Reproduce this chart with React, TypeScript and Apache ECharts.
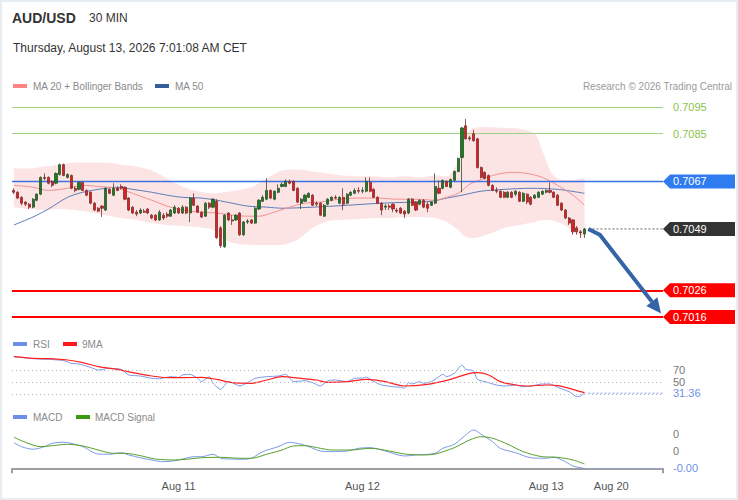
import React, { useEffect, useRef } from 'react';
import * as echarts from 'echarts';

// ---------- axis ----------
const categories = Array.from({ length: 170 }, (_, i) => String(i));
const axisLabelIndex = [43, 91, 139, 156];
const axisLabelText = ['Aug 11', 'Aug 12', 'Aug 13', 'Aug 20'];

// ---------- price candles [open, close, low, high] ----------
const candles = [
  [0.70636, 0.70629, 0.70622, 0.70644], [0.70629, 0.70607, 0.70603, 0.70633], [0.70610, 0.70588, 0.70580, 0.70614],
  [0.70592, 0.70584, 0.70577, 0.70595], [0.70584, 0.70573, 0.70566, 0.70588], [0.70573, 0.70603, 0.70569, 0.70607],
  [0.70599, 0.70622, 0.70595, 0.70625], [0.70622, 0.70685, 0.70618, 0.70689], [0.70685, 0.70681, 0.70674, 0.70700],
  [0.70685, 0.70663, 0.70659, 0.70689], [0.70670, 0.70655, 0.70648, 0.70674], [0.70663, 0.70700, 0.70659, 0.70704],
  [0.70696, 0.70733, 0.70692, 0.70737], [0.70733, 0.70692, 0.70689, 0.70737], [0.70685, 0.70696, 0.70681, 0.70700],
  [0.70692, 0.70644, 0.70640, 0.70696], [0.70644, 0.70636, 0.70629, 0.70651], [0.70640, 0.70666, 0.70636, 0.70670],
  [0.70666, 0.70636, 0.70633, 0.70670], [0.70636, 0.70618, 0.70614, 0.70640], [0.70629, 0.70588, 0.70584, 0.70633],
  [0.70588, 0.70562, 0.70558, 0.70592], [0.70569, 0.70558, 0.70554, 0.70573], [0.70577, 0.70569, 0.70536, 0.70580],
  [0.70562, 0.70644, 0.70558, 0.70648], [0.70640, 0.70625, 0.70622, 0.70644], [0.70618, 0.70644, 0.70614, 0.70663],
  [0.70644, 0.70636, 0.70633, 0.70651], [0.70651, 0.70644, 0.70640, 0.70659], [0.70648, 0.70603, 0.70599, 0.70651],
  [0.70607, 0.70562, 0.70558, 0.70610], [0.70573, 0.70551, 0.70547, 0.70577], [0.70554, 0.70547, 0.70539, 0.70562],
  [0.70551, 0.70562, 0.70547, 0.70569], [0.70558, 0.70554, 0.70551, 0.70566], [0.70566, 0.70551, 0.70547, 0.70569],
  [0.70543, 0.70532, 0.70528, 0.70547], [0.70543, 0.70525, 0.70521, 0.70547], [0.70525, 0.70554, 0.70521, 0.70562],
  [0.70543, 0.70532, 0.70525, 0.70551], [0.70547, 0.70539, 0.70532, 0.70554], [0.70539, 0.70562, 0.70536, 0.70566],
  [0.70551, 0.70573, 0.70547, 0.70580], [0.70569, 0.70551, 0.70547, 0.70573], [0.70551, 0.70573, 0.70547, 0.70580],
  [0.70573, 0.70551, 0.70547, 0.70577], [0.70551, 0.70607, 0.70517, 0.70610], [0.70607, 0.70580, 0.70577, 0.70625],
  [0.70577, 0.70554, 0.70551, 0.70580], [0.70554, 0.70536, 0.70532, 0.70558], [0.70539, 0.70588, 0.70536, 0.70592],
  [0.70588, 0.70573, 0.70566, 0.70592], [0.70573, 0.70603, 0.70569, 0.70607], [0.70595, 0.70458, 0.70454, 0.70603],
  [0.70495, 0.70428, 0.70420, 0.70502], [0.70424, 0.70543, 0.70420, 0.70547], [0.70551, 0.70525, 0.70521, 0.70554],
  [0.70525, 0.70521, 0.70506, 0.70543], [0.70525, 0.70543, 0.70521, 0.70547], [0.70551, 0.70469, 0.70465, 0.70554],
  [0.70469, 0.70517, 0.70465, 0.70521], [0.70517, 0.70521, 0.70510, 0.70528], [0.70525, 0.70513, 0.70510, 0.70528],
  [0.70513, 0.70569, 0.70510, 0.70573], [0.70566, 0.70599, 0.70562, 0.70603], [0.70595, 0.70610, 0.70592, 0.70618],
  [0.70603, 0.70636, 0.70599, 0.70681], [0.70636, 0.70607, 0.70603, 0.70640], [0.70603, 0.70633, 0.70599, 0.70636],
  [0.70629, 0.70644, 0.70625, 0.70659], [0.70651, 0.70659, 0.70648, 0.70666], [0.70651, 0.70670, 0.70648, 0.70677],
  [0.70670, 0.70663, 0.70659, 0.70677], [0.70670, 0.70636, 0.70633, 0.70674], [0.70644, 0.70592, 0.70588, 0.70648],
  [0.70588, 0.70603, 0.70566, 0.70607], [0.70595, 0.70618, 0.70592, 0.70622], [0.70610, 0.70625, 0.70607, 0.70629],
  [0.70618, 0.70580, 0.70577, 0.70622], [0.70588, 0.70584, 0.70577, 0.70595], [0.70588, 0.70543, 0.70539, 0.70592],
  [0.70539, 0.70580, 0.70536, 0.70584], [0.70584, 0.70603, 0.70580, 0.70607], [0.70599, 0.70610, 0.70595, 0.70614],
  [0.70610, 0.70607, 0.70603, 0.70618], [0.70588, 0.70610, 0.70584, 0.70614], [0.70610, 0.70584, 0.70562, 0.70644],
  [0.70588, 0.70622, 0.70584, 0.70625], [0.70618, 0.70629, 0.70614, 0.70633], [0.70625, 0.70636, 0.70622, 0.70644],
  [0.70636, 0.70633, 0.70625, 0.70648], [0.70633, 0.70636, 0.70625, 0.70648], [0.70633, 0.70670, 0.70629, 0.70685],
  [0.70666, 0.70633, 0.70629, 0.70685], [0.70640, 0.70610, 0.70607, 0.70644], [0.70610, 0.70588, 0.70584, 0.70614],
  [0.70588, 0.70562, 0.70543, 0.70592], [0.70573, 0.70577, 0.70562, 0.70584], [0.70577, 0.70573, 0.70562, 0.70584],
  [0.70584, 0.70566, 0.70554, 0.70588], [0.70562, 0.70558, 0.70551, 0.70569], [0.70569, 0.70551, 0.70547, 0.70573],
  [0.70558, 0.70547, 0.70532, 0.70562], [0.70551, 0.70603, 0.70547, 0.70607], [0.70603, 0.70580, 0.70577, 0.70607],
  [0.70592, 0.70562, 0.70558, 0.70595], [0.70584, 0.70599, 0.70580, 0.70603], [0.70599, 0.70573, 0.70569, 0.70603],
  [0.70584, 0.70569, 0.70554, 0.70592], [0.70580, 0.70592, 0.70577, 0.70595], [0.70588, 0.70651, 0.70584, 0.70700],
  [0.70644, 0.70625, 0.70622, 0.70674], [0.70644, 0.70674, 0.70640, 0.70677], [0.70670, 0.70651, 0.70648, 0.70674],
  [0.70648, 0.70677, 0.70644, 0.70681], [0.70674, 0.70707, 0.70670, 0.70711], [0.70707, 0.70756, 0.70704, 0.70760],
  [0.70760, 0.70871, 0.70629, 0.70875], [0.70879, 0.70830, 0.70827, 0.70905], [0.70834, 0.70830, 0.70823, 0.70842],
  [0.70849, 0.70823, 0.70819, 0.70864], [0.70830, 0.70722, 0.70718, 0.70834], [0.70722, 0.70685, 0.70681, 0.70726],
  [0.70704, 0.70681, 0.70677, 0.70707], [0.70692, 0.70655, 0.70651, 0.70696], [0.70655, 0.70636, 0.70633, 0.70659],
  [0.70636, 0.70633, 0.70625, 0.70648], [0.70633, 0.70610, 0.70607, 0.70636], [0.70629, 0.70610, 0.70607, 0.70633],
  [0.70610, 0.70629, 0.70607, 0.70633], [0.70629, 0.70610, 0.70607, 0.70633], [0.70622, 0.70633, 0.70614, 0.70636],
  [0.70629, 0.70595, 0.70592, 0.70633], [0.70595, 0.70625, 0.70592, 0.70629], [0.70622, 0.70592, 0.70584, 0.70625],
  [0.70610, 0.70584, 0.70580, 0.70614], [0.70607, 0.70618, 0.70603, 0.70622], [0.70610, 0.70629, 0.70607, 0.70633],
  [0.70622, 0.70633, 0.70618, 0.70636], [0.70629, 0.70636, 0.70625, 0.70640], [0.70636, 0.70629, 0.70625, 0.70666],
  [0.70629, 0.70610, 0.70607, 0.70633], [0.70618, 0.70580, 0.70577, 0.70622], [0.70588, 0.70562, 0.70558, 0.70592],
  [0.70562, 0.70532, 0.70528, 0.70566], [0.70532, 0.70513, 0.70506, 0.70536], [0.70525, 0.70480, 0.70469, 0.70528],
  [0.70495, 0.70480, 0.70469, 0.70502], [0.70480, 0.70476, 0.70457, 0.70487], [0.70472, 0.70491, 0.70457, 0.70495],
];

// ---------- MA 20 + Bollinger Bands, MA 50 ----------
const ma20Idx = [0, 5, 9, 14, 18, 22, 27, 31, 36, 40, 44, 49, 53, 57, 61, 64, 68, 72, 76, 80, 85, 90, 95, 100, 105, 110, 113, 116, 119, 122, 126, 130, 134, 138, 142, 146, 149];
const ma20Values = [0.70655, 0.70648, 0.70636, 0.70644, 0.70655, 0.70651, 0.70644, 0.70625, 0.70599, 0.70577, 0.70562, 0.70554, 0.70551, 0.70543, 0.70539, 0.70539, 0.70554, 0.70573, 0.70588, 0.70592, 0.70603, 0.70607, 0.70607, 0.70603, 0.70603, 0.70599, 0.70610, 0.70625, 0.70659, 0.70677, 0.70696, 0.70704, 0.70700, 0.70685, 0.70655, 0.70618, 0.70580];

const bandIdx = [0, 4, 8, 12, 16, 20, 24, 28, 32, 36, 40, 44, 48, 52, 55, 58, 62, 66, 70, 74, 78, 82, 86, 90, 94, 98, 102, 106, 110, 113, 116, 118, 120, 124, 128, 132, 136, 138, 140, 142, 145, 147, 149];
const bandUpper = [0.70718, 0.70718, 0.70726, 0.70733, 0.70741, 0.70741, 0.70741, 0.70733, 0.70726, 0.70711, 0.70681, 0.70651, 0.70633, 0.70625, 0.70629, 0.70636, 0.70648, 0.70681, 0.70711, 0.70715, 0.70707, 0.70700, 0.70692, 0.70689, 0.70689, 0.70685, 0.70689, 0.70685, 0.70692, 0.70689, 0.70745, 0.70842, 0.70871, 0.70875, 0.70871, 0.70868, 0.70849, 0.70786, 0.70711, 0.70681, 0.70674, 0.70677, 0.70685];
const bandLower = [0.70573, 0.70566, 0.70562, 0.70566, 0.70562, 0.70554, 0.70543, 0.70532, 0.70525, 0.70513, 0.70506, 0.70502, 0.70498, 0.70487, 0.70450, 0.70435, 0.70431, 0.70431, 0.70431, 0.70450, 0.70495, 0.70521, 0.70525, 0.70528, 0.70532, 0.70532, 0.70536, 0.70536, 0.70532, 0.70517, 0.70487, 0.70461, 0.70457, 0.70472, 0.70495, 0.70506, 0.70517, 0.70525, 0.70525, 0.70517, 0.70495, 0.70476, 0.70461];

const ma50Idx = [0, 5, 9, 14, 18, 22, 27, 31, 36, 40, 44, 49, 53, 57, 61, 66, 70, 78, 87, 96, 104, 109, 113, 117, 122, 128, 135, 142, 149];
const ma50Values = [0.70506, 0.70536, 0.70566, 0.70610, 0.70629, 0.70640, 0.70648, 0.70640, 0.70629, 0.70618, 0.70610, 0.70607, 0.70599, 0.70588, 0.70577, 0.70573, 0.70569, 0.70573, 0.70580, 0.70588, 0.70592, 0.70595, 0.70607, 0.70618, 0.70633, 0.70640, 0.70644, 0.70640, 0.70625];

// ---------- levels ----------
const targetLevels = [0.7095, 0.7085];
const pivotLevel = 0.7067;
const supportLevels = [0.7026, 0.7016];
const arrowPath = [[150, 0.70491], [153, 0.70469], [169, 0.70173]];

// ---------- RSI ----------
const rsiIdx = [0, 5, 9, 13, 15, 17, 20, 22, 25, 28, 30, 33, 36, 38, 41, 43, 44, 46, 48, 49, 51, 52, 54, 56, 57, 59, 61, 63, 66, 69, 71, 73, 76, 78, 80, 82, 84, 87, 89, 91, 92, 94, 96, 99, 101, 102, 103, 104, 106, 107, 109, 111, 112, 113, 115, 117, 118, 120, 121, 123, 126, 128, 131, 133, 135, 138, 140, 142, 145, 147, 148, 149];
const rsiValues = [92.2, 88.9, 87.8, 85.6, 81.1, 80.0, 74.4, 70.0, 72.8, 71.1, 61.7, 60.0, 56.1, 55.6, 58.9, 57.8, 61.7, 62.8, 56.1, 50.6, 58.9, 47.8, 37.8, 50.6, 48.9, 43.3, 48.9, 56.1, 58.9, 60.0, 62.8, 50.6, 52.2, 48.9, 43.3, 52.2, 53.3, 50.6, 56.1, 56.7, 58.0, 50.6, 45.0, 42.2, 41.1, 39.4, 48.9, 46.7, 50.6, 47.8, 50.6, 58.9, 62.8, 58.9, 64.4, 78.3, 71.1, 68.9, 54.4, 50.6, 45.0, 43.3, 45.0, 42.2, 43.3, 46.7, 46.7, 41.1, 33.9, 25.6, 26.7, 31.36];
const rsiMaIdx = [0, 5, 9, 14, 18, 22, 27, 31, 36, 40, 44, 49, 53, 57, 62, 66, 70, 75, 79, 82, 87, 92, 97, 102, 108, 114, 119, 121, 124, 127, 131, 134, 139, 142, 145, 149];
const rsiMaValues = [92.2, 89.4, 88.9, 86.7, 82.2, 75.6, 71.1, 65.6, 60.0, 57.2, 57.2, 57.8, 54.4, 48.9, 47.8, 53.3, 58.9, 56.1, 53.3, 49.4, 50.6, 54.4, 50.6, 43.3, 46.1, 54.4, 64.4, 65.6, 61.7, 50.6, 45.0, 43.3, 45.0, 43.9, 39.4, 32.2];
const rsiLevels = [70, 50, 30];

// ---------- MACD ----------
const macdIdx = [0, 2, 5, 8, 10, 13, 16, 18, 22, 25, 28, 30, 33, 36, 39, 42, 44, 47, 49, 52, 54, 57, 60, 62, 65, 69, 72, 75, 77, 80, 83, 87, 90, 93, 97, 102, 105, 110, 112, 115, 118, 120, 122, 125, 127, 131, 135, 139, 141, 144, 146, 149];
const macdValues = [0.000296, 0.000250, 0.000220, 0.000250, 0.000289, 0.000300, 0.000277, 0.000250, 0.000165, 0.000162, 0.000180, 0.000154, 0.000122, 0.000096, 0.000076, 0.000088, 0.000107, 0.000134, 0.000134, 0.000162, 0.000116, 0.000107, 0.000104, 0.000116, 0.000192, 0.000250, 0.000300, 0.000277, 0.000250, 0.000200, 0.000192, 0.000200, 0.000231, 0.000238, 0.000200, 0.000142, 0.000154, 0.000173, 0.000231, 0.000277, 0.000385, 0.000443, 0.000393, 0.000307, 0.000231, 0.000180, 0.000122, 0.000116, 0.000127, 0.000076, 0.000027, -0.000002];
const signalIdx = [0, 3, 7, 10, 14, 18, 22, 26, 29, 33, 37, 42, 45, 49, 54, 59, 62, 66, 70, 73, 76, 80, 83, 88, 93, 98, 102, 107, 110, 115, 119, 122, 125, 129, 133, 138, 142, 146, 149];
const signalValues = [0.000358, 0.000300, 0.000250, 0.000261, 0.000277, 0.000258, 0.000211, 0.000173, 0.000173, 0.000146, 0.000107, 0.000096, 0.000104, 0.000122, 0.000127, 0.000116, 0.000116, 0.000162, 0.000211, 0.000258, 0.000261, 0.000231, 0.000211, 0.000211, 0.000231, 0.000200, 0.000165, 0.000154, 0.000165, 0.000238, 0.000327, 0.000365, 0.000347, 0.000277, 0.000192, 0.000134, 0.000127, 0.000096, 0.000050];
const macdLabelLevels = [0.0004, 0.0002];

const FONT = 'Arial, "Liberation Sans", Helvetica, sans-serif';
const pairs = (idx: number[], vals: number[]) => idx.map((x, k) => [x, vals[k]]);
const lastIndex = candles.length - 1;
const lastClose = candles[lastIndex][1];

type Tag = { value: number; text: string; color: string; bg?: string; dotted?: string };

function tagSeries(xAxisIndex: number, yAxisIndex: number, tags: Tag[]) {
  return {
    type: 'custom',
    xAxisIndex,
    yAxisIndex,
    silent: true,
    clip: false,
    z: 20,
    encode: { x: 0, y: 1 },
    data: tags.map((t) => [lastIndex, t.value]),
    renderItem: (params: any, api: any) => {
      const t = tags[params.dataIndex];
      const p = api.coord([api.value(0), api.value(1)]);
      const cs = params.coordSys;
      const right = cs.x + cs.width;
      const y = p[1];
      const children: any[] = [];
      if (t.dotted) {
        children.push({
          type: 'line',
          shape: { x1: p[0] + 4, y1: y, x2: right, y2: y },
          style: { stroke: t.dotted, lineWidth: 1, lineDash: [2, 2] },
        });
      }
      if (t.bg) {
        children.push({
          type: 'polygon',
          shape: { points: [[right, y], [right + 7, y - 7], [right + 72, y - 7], [right + 72, y + 7], [right + 7, y + 7]] },
          style: { fill: t.bg },
        });
      }
      children.push({
        type: 'text',
        x: right + 10,
        y,
        style: { text: t.text, fill: t.color, font: `11px ${FONT}`, align: 'left', verticalAlign: 'middle' },
      });
      return { type: 'group', children };
    },
  };
}

function buildOption() {
  const gridBase = { left: 12, width: 651, outerBoundsMode: 'none', containLabel: false };
  const hiddenX = (gridIndex: number) => ({
    type: 'category', gridIndex, data: categories, show: false, boundaryGap: true,
  });

  const mainTags: Tag[] = [
    { value: pivotLevel, text: pivotLevel.toFixed(4), color: '#fff', bg: '#2f7cf0' },
    { value: lastClose, text: lastClose.toFixed(4), color: '#fff', bg: '#333333', dotted: '#666' },
    ...supportLevels.map((v) => ({ value: v, text: v.toFixed(4), color: '#fff', bg: '#ff0000' })),
  ];
  const rsiLast = rsiValues[rsiValues.length - 1];
  const macdLast = macdValues[macdValues.length - 1];

  const arrowColor = '#3564a6';
  const legendFont = `10px ${FONT}`;

  return {
    animation: false,
    backgroundColor: '#ffffff',
    textStyle: { fontFamily: FONT },
    grid: [
      { ...gridBase, top: 99, height: 228 },
      { ...gridBase, top: 352, height: 48 },
      { ...gridBase, top: 425, height: 46 },
    ],
    xAxis: [
      hiddenX(0),
      hiddenX(1),
      {
        type: 'category',
        gridIndex: 2,
        data: categories,
        boundaryGap: true,
        axisLine: { show: true, lineStyle: { color: '#9e9e9e', width: 2 } },
        axisTick: { show: true, interval: (i: number) => i === 0, length: 5, lineStyle: { color: '#9e9e9e', width: 2 } },
        axisLabel: {
          show: true,
          interval: (i: number) => axisLabelIndex.includes(i),
          formatter: (v: string) => {
            const k = axisLabelIndex.indexOf(Number(v));
            return k >= 0 ? axisLabelText[k] : '';
          },
          color: '#555',
          fontSize: 11,
          margin: 9,
        },
        splitLine: { show: false },
      },
    ],
    yAxis: [
      { type: 'value', gridIndex: 0, min: 0.70122, max: 0.7098, show: false, splitLine: { show: false } },
      { type: 'value', gridIndex: 1, min: 20, max: 100, show: false, splitLine: { show: false } },
      { type: 'value', gridIndex: 2, min: -0.0000312, max: 0.0005, show: false, splitLine: { show: false } },
    ],
    graphic: [
      { type: 'text', x: 12, y: 18, style: { text: 'AUD/USD', fill: '#333', font: `bold 14px ${FONT}`, verticalAlign: 'middle' } },
      { type: 'text', x: 89, y: 18, style: { text: '30 MIN', fill: '#333', font: `12px ${FONT}`, verticalAlign: 'middle' } },
      { type: 'text', x: 13, y: 48, style: { text: 'Thursday, August 13, 2026 7:01:08 AM CET', fill: '#333', font: `12px ${FONT}`, verticalAlign: 'middle' } },
      { type: 'rect', shape: { x: 13, y: 84, width: 14, height: 4 }, style: { fill: '#ff8585' } },
      { type: 'text', x: 33, y: 86, style: { text: 'MA 20 + Bollinger Bands', fill: '#8a8a8a', font: legendFont, verticalAlign: 'middle' } },
      { type: 'rect', shape: { x: 155, y: 84, width: 14, height: 4 }, style: { fill: '#355d9b' } },
      { type: 'text', x: 175, y: 86, style: { text: 'MA 50', fill: '#8a8a8a', font: legendFont, verticalAlign: 'middle' } },
      { type: 'text', x: 732, y: 86, style: { text: 'Research © 2026 Trading Central', fill: '#9a9a9a', font: legendFont, align: 'right', verticalAlign: 'middle' } },
      { type: 'rect', shape: { x: 13, y: 342, width: 14, height: 4 }, style: { fill: '#6e8fe8' } },
      { type: 'text', x: 33, y: 344, style: { text: 'RSI', fill: '#8a8a8a', font: legendFont, verticalAlign: 'middle' } },
      { type: 'rect', shape: { x: 63, y: 342, width: 14, height: 4 }, style: { fill: '#ff1a1a' } },
      { type: 'text', x: 82, y: 344, style: { text: '9MA', fill: '#8a8a8a', font: legendFont, verticalAlign: 'middle' } },
      { type: 'rect', shape: { x: 13, y: 415, width: 14, height: 4 }, style: { fill: '#6e8fe8' } },
      { type: 'text', x: 33, y: 417, style: { text: 'MACD', fill: '#8a8a8a', font: legendFont, verticalAlign: 'middle' } },
      { type: 'rect', shape: { x: 76, y: 415, width: 14, height: 4 }, style: { fill: '#3c9a10' } },
      { type: 'text', x: 95, y: 417, style: { text: 'MACD Signal', fill: '#8a8a8a', font: legendFont, verticalAlign: 'middle' } },
    ],
    series: [
      {
        name: 'BB lower', type: 'line', xAxisIndex: 0, yAxisIndex: 0, stack: 'bb', symbol: 'none', smooth: 0.3,
        data: pairs(bandIdx, bandLower), lineStyle: { opacity: 0 }, silent: true, z: 1,
      },
      {
        name: 'BB range', type: 'line', xAxisIndex: 0, yAxisIndex: 0, stack: 'bb', symbol: 'none', smooth: 0.3,
        data: bandIdx.map((x, k) => [x, +(bandUpper[k] - bandLower[k]).toFixed(6)]),
        lineStyle: { opacity: 0 }, areaStyle: { color: '#fde4e4', opacity: 1 }, silent: true, z: 1,
      },
      {
        name: 'MA 50', type: 'line', xAxisIndex: 0, yAxisIndex: 0, symbol: 'none', smooth: 0.3,
        data: pairs(ma50Idx, ma50Values), lineStyle: { color: '#5b7cb6', width: 1 }, silent: true, z: 2,
      },
      {
        name: 'MA 20', type: 'line', xAxisIndex: 0, yAxisIndex: 0, symbol: 'none', smooth: 0.3,
        data: pairs(ma20Idx, ma20Values), lineStyle: { color: '#f29090', width: 1 }, silent: true, z: 2,
      },
      {
        name: 'AUD/USD', type: 'candlestick', xAxisIndex: 0, yAxisIndex: 0, data: candles, barWidth: 2.6, z: 5,
        itemStyle: { color: '#1d7d1d', color0: '#e41c1c', borderColor: '#2f4f2f', borderColor0: '#7a3030', borderWidth: 0.8 },
        markLine: {
          silent: true, symbol: 'none', animation: false, precision: 8,
          data: [
            ...targetLevels.map((v) => ({
              yAxis: v,
              lineStyle: { color: '#a3d386', width: 1, type: 'solid' },
              label: { show: true, position: 'end', distance: 10, formatter: () => v.toFixed(4), color: '#8bc34a', fontSize: 11 },
            })),
            { yAxis: pivotLevel, lineStyle: { color: '#3b72e6', width: 1.3, type: 'solid' }, label: { show: false } },
            ...supportLevels.map((v) => ({
              yAxis: v, lineStyle: { color: '#ff0000', width: 2, type: 'solid' }, label: { show: false },
            })),
          ],
        },
      },
      tagSeries(0, 0, mainTags),
      {
        name: 'arrow', type: 'custom', xAxisIndex: 0, yAxisIndex: 0, silent: true, clip: false, z: 25,
        encode: { x: 0, y: 1 },
        data: [arrowPath[0]],
        renderItem: (_params: any, api: any) => {
          const pts = arrowPath.map((p) => api.coord(p));
          const n = pts.length;
          const [tx, ty] = pts[n - 1];
          const [px, py] = pts[n - 2];
          const ang = Math.atan2(ty - py, tx - px);
          const L = 15;
          const W = 7;
          const bx = tx - L * Math.cos(ang);
          const by = ty - L * Math.sin(ang);
          const line = pts.slice(0, n - 1).concat([[bx, by]]);
          return {
            type: 'group',
            children: [
              { type: 'polyline', shape: { points: line }, style: { stroke: arrowColor, lineWidth: 4, lineJoin: 'round', fill: null } },
              {
                type: 'polygon',
                shape: { points: [[tx, ty], [bx + W * Math.sin(ang), by - W * Math.cos(ang)], [bx - W * Math.sin(ang), by + W * Math.cos(ang)]] },
                style: { fill: arrowColor },
              },
            ],
          };
        },
      },
      {
        name: 'RSI', type: 'line', xAxisIndex: 1, yAxisIndex: 1, symbol: 'none', smooth: 0.2,
        data: pairs(rsiIdx, rsiValues), lineStyle: { color: '#7b98e8', width: 1 }, silent: true, z: 3,
        markLine: {
          silent: true, symbol: 'none', animation: false, precision: 8,
          data: rsiLevels.map((v) => ({
            yAxis: v,
            lineStyle: { color: '#b5b5b5', width: 1, type: [1, 3] },
            label: { show: v !== 30, position: 'end', distance: 10, formatter: () => String(v), color: '#777', fontSize: 11 },
          })),
        },
      },
      {
        name: '9MA', type: 'line', xAxisIndex: 1, yAxisIndex: 1, symbol: 'none', smooth: 0.3,
        data: pairs(rsiMaIdx, rsiMaValues), lineStyle: { color: '#ff2020', width: 1.2 }, silent: true, z: 4,
      },
      tagSeries(1, 1, [{ value: rsiLast, text: rsiLast.toFixed(2), color: '#6e8fe8', dotted: '#8aa6ee' }]),
      {
        name: 'MACD', type: 'line', xAxisIndex: 2, yAxisIndex: 2, symbol: 'none', smooth: 0.3,
        data: pairs(macdIdx, macdValues), lineStyle: { color: '#7b98e8', width: 1 }, silent: true, z: 3,
        markLine: {
          silent: true, symbol: 'none', animation: false, precision: 8,
          data: macdLabelLevels.map((v) => ({
            yAxis: v,
            lineStyle: { color: 'rgba(0,0,0,0)', width: 0 },
            label: { show: true, position: 'end', distance: 10, formatter: () => v.toFixed(0), color: '#777', fontSize: 11 },
          })),
        },
      },
      {
        name: 'MACD Signal', type: 'line', xAxisIndex: 2, yAxisIndex: 2, symbol: 'none', smooth: 0.3,
        data: pairs(signalIdx, signalValues), lineStyle: { color: '#58a02a', width: 1 }, silent: true, z: 3,
      },
      tagSeries(2, 2, [{ value: macdLast, text: macdLast.toFixed(2), color: '#6e8fe8', dotted: '#8aa6ee' }]),
    ],
  };
}

export default function App() {
  const ref = useRef<HTMLDivElement>(null);
  useEffect(() => {
    if (!ref.current) return;
    const chart = echarts.init(ref.current, null, { renderer: 'svg' });
    chart.setOption(buildOption() as any);
    return () => chart.dispose();
  }, []);
  return (
    <div style={{ position: 'fixed', left: 0, top: 0, width: 738, height: 500, background: '#fff' }}>
      <div ref={ref} style={{ position: 'absolute', left: 0, top: 0, width: 738, height: 500 }} />
      <div
        style={{
          position: 'absolute', left: 0, top: 0, width: 738, height: 500, boxSizing: 'border-box',
          border: '2px solid #e8edf1', pointerEvents: 'none',
        }}
      />
    </div>
  );
}
